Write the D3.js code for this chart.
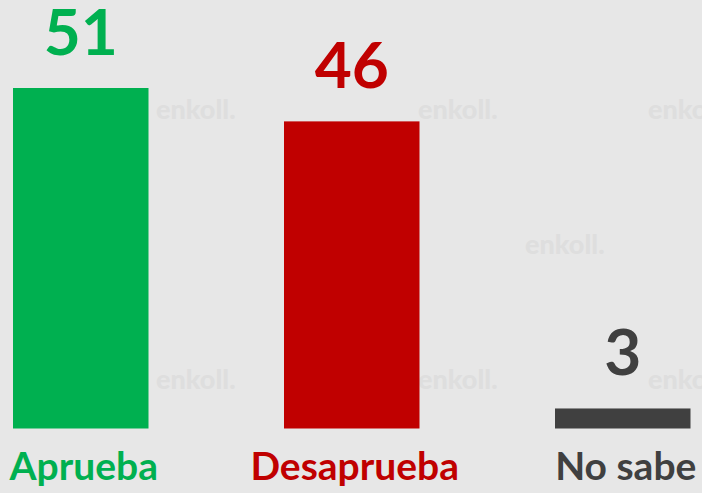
<!DOCTYPE html>
<html><head><meta charset="utf-8">
<script src="https://cdn.jsdelivr.net/npm/d3@7"></script>
<style>html,body{margin:0;padding:0;background:#e7e7e7;overflow:hidden}</style>
</head><body>
<svg id="c" width="702" height="493"></svg>
<script>
const categories = ["Aprueba", "Desaprueba", "No sabe"];
const values = [51, 46, 3];
const colors = ["#00b050", "#c00000", "#404040"];
const watermarks = [[156,119],[418,119],[648,119],[525,254],[156,389],[418,389],[648,389]];

const W = 702, H = 493;
const svg = d3.select("#c");
svg.append("rect").attr("width", W).attr("height", H).attr("fill", "#e7e7e7");

const font = "Lato, 'Open Sans', sans-serif";

// faint watermarks
const wm = svg.append("g").attr("fill", "#dedede").attr("font-family", font).attr("font-weight", 900);
wm.selectAll("text").data(watermarks).join("text")
  .attr("x", d => d[0]).attr("y", d => d[1])
  .attr("font-size", 27).text("enkoll.");

const x = d3.scaleBand().domain(categories).range([-54.75, 758.25]).paddingInner(0.5).paddingOuter(0.25);
const y = d3.scaleLinear().domain([0, 51]).range([428.5, 88]);

svg.selectAll("rect.bar").data(categories).join("rect").attr("class", "bar")
  .attr("x", d => x(d)).attr("width", x.bandwidth())
  .attr("y", (d, i) => y(values[i])).attr("height", (d, i) => y(0) - y(values[i]))
  .attr("fill", (d, i) => colors[i]);

svg.selectAll("text.val").data(categories).join("text").attr("class", "val")
  .attr("x", d => x(d) + x.bandwidth() / 2)
  .attr("y", (d, i) => y(values[i]) - 33)
  .attr("text-anchor", "middle").attr("font-family", font).attr("font-weight", 700)
  .attr("font-size", 64).attr("fill", (d, i) => colors[i])
  .text((d, i) => values[i]);

svg.selectAll("text.cat").data(categories).join("text").attr("class", "cat")
  .attr("x", d => x(d) + x.bandwidth() / 2 + 3)
  .attr("y", 480)
  .attr("text-anchor", "middle").attr("font-family", font).attr("font-weight", 700)
  .attr("font-size", 39).attr("fill", (d, i) => colors[i])
  .text(d => d);
</script>
</body></html>
